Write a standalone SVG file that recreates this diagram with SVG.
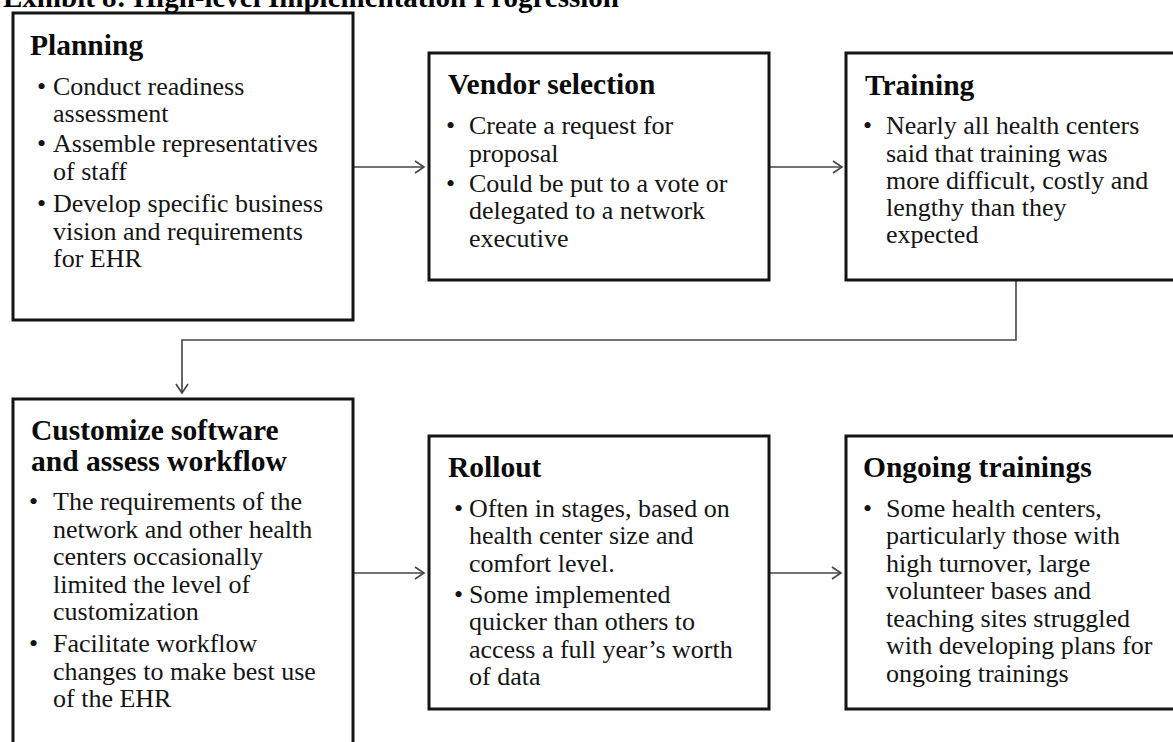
<svg xmlns="http://www.w3.org/2000/svg" width="1173" height="742" viewBox="0 0 1173 742">
<defs>
<style>
.box{fill:#fff;stroke:#141414;stroke-width:3}
.h{font-family:"Liberation Serif","Times New Roman",serif;font-weight:bold;font-size:29.5px;fill:#0a0a0a}
.t{font-family:"Liberation Serif","Times New Roman",serif;font-size:26px;fill:#141414}
.title{font-family:"Liberation Serif","Times New Roman",serif;font-weight:bold;font-size:29px;fill:#000}
.c{fill:none;stroke:#444;stroke-width:1.6}
</style>
<marker id="arr" markerWidth="14" markerHeight="16" refX="11" refY="7" orient="auto" markerUnits="userSpaceOnUse">
<path d="M2,1 L11,7 L2,13" fill="none" stroke="#444" stroke-width="1.6"/>
</marker>
</defs>
<rect width="1173" height="742" fill="#fff"/>
<text class="title" x="3" y="7">Exhibit 8: High-level Implementation Progression</text>

<g id="connectors">
<line class="c" x1="353" y1="167" x2="424" y2="167" marker-end="url(#arr)"/>
<line class="c" x1="769" y1="167" x2="842" y2="167" marker-end="url(#arr)"/>
<polyline class="c" points="1016,280 1016,340 182,340 182,393" marker-end="url(#arr)"/>
<line class="c" x1="353" y1="573" x2="424" y2="573" marker-end="url(#arr)"/>
<line class="c" x1="769" y1="573" x2="841" y2="573" marker-end="url(#arr)"/>
</g>

<g id="planning">
<rect class="box" x="13" y="13" width="340" height="307"/>
<text class="h" x="30" y="55">Planning</text>
<text class="t" x="37" y="94.5">•</text>
<text class="t" x="53" y="94.5">Conduct readiness</text>
<text class="t" x="53" y="122">assessment</text>
<text class="t" x="37" y="152">•</text>
<text class="t" x="53" y="152">Assemble representatives</text>
<text class="t" x="53" y="180">of staff</text>
<text class="t" x="37" y="212">•</text>
<text class="t" x="53" y="212">Develop specific business</text>
<text class="t" x="53" y="240">vision and requirements</text>
<text class="t" x="53" y="267">for EHR</text>
</g>

<g id="vendor">
<rect class="box" x="429" y="53" width="340" height="227"/>
<text class="h" x="448" y="94">Vendor selection</text>
<text class="t" x="446" y="134">•</text>
<text class="t" x="469" y="134">Create a request for</text>
<text class="t" x="469" y="162">proposal</text>
<text class="t" x="446" y="192">•</text>
<text class="t" x="469" y="192">Could be put to a vote or</text>
<text class="t" x="469" y="219">delegated to a network</text>
<text class="t" x="469" y="247">executive</text>
</g>

<g id="training">
<rect class="box" x="846" y="53" width="340" height="227"/>
<text class="h" x="865" y="95">Training</text>
<text class="t" x="863" y="134">•</text>
<text class="t" x="886" y="134">Nearly all health centers</text>
<text class="t" x="886" y="162">said that training was</text>
<text class="t" x="886" y="189">more difficult, costly and</text>
<text class="t" x="886" y="216">lengthy than they</text>
<text class="t" x="886" y="243">expected</text>
</g>

<g id="customize">
<rect class="box" x="13" y="399" width="340" height="400"/>
<text class="h" x="31" y="440">Customize software</text>
<text class="h" x="31" y="471">and assess workflow</text>
<text class="t" x="29" y="510">•</text>
<text class="t" x="53" y="510">The requirements of the</text>
<text class="t" x="53" y="538">network and other health</text>
<text class="t" x="53" y="565">centers occasionally</text>
<text class="t" x="53" y="592.5">limited the level of</text>
<text class="t" x="53" y="620">customization</text>
<text class="t" x="29" y="651.5">•</text>
<text class="t" x="53" y="651.5">Facilitate workflow</text>
<text class="t" x="53" y="679.5">changes to make best use</text>
<text class="t" x="53" y="706.5">of the EHR</text>
</g>

<g id="rollout">
<rect class="box" x="429" y="436" width="340" height="273"/>
<text class="h" x="448" y="477">Rollout</text>
<text class="t" x="454" y="517">•</text>
<text class="t" x="469" y="517">Often in stages, based on</text>
<text class="t" x="469" y="544">health center size and</text>
<text class="t" x="469" y="572">comfort level.</text>
<text class="t" x="454" y="603">•</text>
<text class="t" x="469" y="603">Some implemented</text>
<text class="t" x="469" y="630">quicker than others to</text>
<text class="t" x="469" y="658">access a full year’s worth</text>
<text class="t" x="469" y="685">of data</text>
</g>

<g id="ongoing">
<rect class="box" x="846" y="436" width="340" height="273"/>
<text class="h" x="863" y="477">Ongoing trainings</text>
<text class="t" x="863" y="517">•</text>
<text class="t" x="886" y="517">Some health centers,</text>
<text class="t" x="886" y="544">particularly those with</text>
<text class="t" x="886" y="572">high turnover, large</text>
<text class="t" x="886" y="599">volunteer bases and</text>
<text class="t" x="886" y="627">teaching sites struggled</text>
<text class="t" x="886" y="654">with developing plans for</text>
<text class="t" x="886" y="682">ongoing trainings</text>
</g>
</svg>
